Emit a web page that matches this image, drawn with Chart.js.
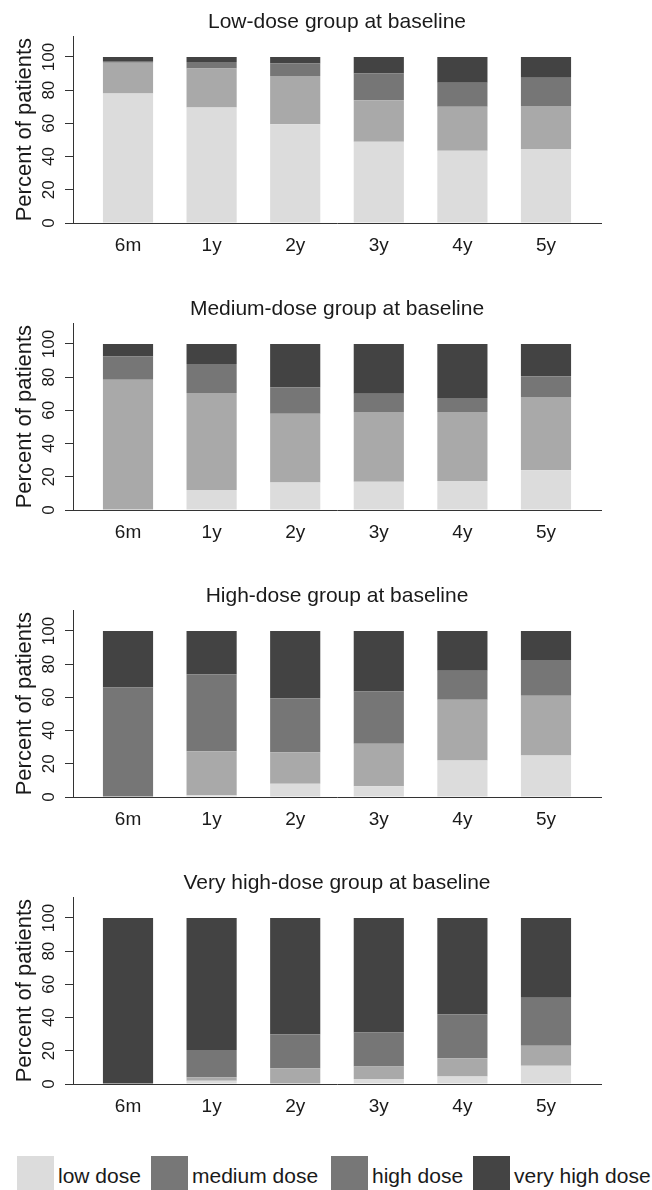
<!DOCTYPE html>
<html>
<head>
<meta charset="utf-8">
<script src="https://cdn.jsdelivr.net/npm/chart.js@4.4.1/dist/chart.umd.min.js"></script>
<style>
  body { margin: 0; background: #fff; font-family: "Liberation Sans", Arial, Helvetica, sans-serif; }
  .page { position: relative; width: 652px; height: 1190px; overflow: hidden; }
  .panel { position: absolute; left: 0; width: 652px; height: 287px; }
  .legend { position: absolute; top: 1156px; left: 0; width: 652px; height: 34px; color: #1a1a1a; font-size: 21px; }
  .legend .item { position: absolute; top: 0; display: flex; align-items: flex-start; }
  .legend .swatch { width: 37px; height: 34px; }
  .legend .text { line-height: 34px; margin-left: 4px; position: relative; top: 3px; white-space: nowrap; }
</style>
</head>
<body>
<div class="page">
  <div class="panel" style="top:0"><canvas id="lowChart" width="652" height="287"></canvas></div>
  <div class="panel" style="top:287px"><canvas id="mediumChart" width="652" height="287"></canvas></div>
  <div class="panel" style="top:574px"><canvas id="highChart" width="652" height="287"></canvas></div>
  <div class="panel" style="top:861px"><canvas id="veryHighChart" width="652" height="287"></canvas></div>
  <div class="legend" id="legend"></div>
</div>
<script>
// 横轴时间点与剂量分组
const timeLabels = ['6m', '1y', '2y', '3y', '4y', '5y'];
const doseLevels = ['low dose', 'medium dose', 'high dose', 'very high dose'];

// Low-dose group at baseline (percent of patients)
const lowGroupLow      = [78, 69.5, 59.5, 49, 43.5, 44.5];
const lowGroupMedium   = [18.5, 23.5, 29, 25, 26.5, 26];
const lowGroupHigh     = [1, 4, 7.5, 16, 14.5, 17];
const lowGroupVeryHigh = [2.5, 3, 4, 10, 15.5, 12.5];

// Medium-dose group at baseline
const mediumGroupLow      = [0, 12, 16.5, 17, 17.5, 24];
const mediumGroupMedium   = [78.5, 58.5, 41.5, 42, 41.5, 44];
const mediumGroupHigh     = [14, 17.5, 16, 11, 8.5, 12.5];
const mediumGroupVeryHigh = [7.5, 12, 26, 30, 32.5, 19.5];

// High-dose group at baseline
const highGroupLow      = [0, 1, 8, 6.5, 22, 25];
const highGroupMedium   = [0, 26.5, 19, 25.5, 36.5, 36];
const highGroupHigh     = [66, 46.5, 32.5, 31.5, 17.5, 21.5];
const highGroupVeryHigh = [34, 26, 40.5, 36.5, 24, 17.5];

// Very high-dose group at baseline
const veryHighGroupLow      = [0, 2, 0, 3, 4.5, 11];
const veryHighGroupMedium   = [0, 2, 9.5, 7.5, 11, 12];
const veryHighGroupHigh     = [0, 16.5, 20.5, 20.5, 26.5, 29];
const veryHighGroupVeryHigh = [100, 79.5, 70, 69, 58, 48];

const barColors = ['#dcdcdc', '#a9a9a9', '#767676', '#434343'];
// 图例里 medium dose 的色块和原图一样用深灰
const legendColors = ['#dcdcdc', '#777777', '#777777', '#444444'];

const fontFamily = '"Liberation Sans", Arial, Helvetica, sans-serif';
const textColor = '#1a1a1a';
const axisColor = '#333333';

Chart.defaults.font.family = fontFamily;

// 纵轴刻度文字旋转 90 度
const rotatedYTicks = {
    id: 'rotatedYTicks',
    afterDraw(chart) {
        const yScale = chart.scales.y;
        const area = chart.chartArea;
        const ctx = chart.ctx;
        ctx.save();
        ctx.font = '17px ' + fontFamily;
        ctx.fillStyle = textColor;
        ctx.textAlign = 'center';
        ctx.textBaseline = 'middle';
        yScale.ticks.forEach(t => {
            const py = yScale.getPixelForValue(t.value);
            ctx.save();
            ctx.translate(area.left - 24, py);
            ctx.rotate(-Math.PI / 2);
            ctx.fillText(String(t.value), 0, 0);
            ctx.restore();
        });
        // x 轴线向左多出一点
        const by = Math.round(yScale.getPixelForValue(0)) + 0.5;
        ctx.strokeStyle = axisColor;
        ctx.lineWidth = 1;
        ctx.beginPath();
        ctx.moveTo(area.left - 8, by);
        ctx.lineTo(area.left, by);
        ctx.stroke();
        ctx.restore();
    }
};

function buildPanel(canvasId, title, series) {
    const ctx = document.getElementById(canvasId).getContext('2d');
    new Chart(ctx, {
        type: 'bar',
        data: {
            datasets: doseLevels.map((name, k) => ({
                label: name,
                data: series[k].map((v, i) => ({ x: i, y: v })),
                backgroundColor: barColors[k],
                borderWidth: 0,
                categoryPercentage: 0.6,
                barPercentage: 1.0
            }))
        },
        options: {
            responsive: false,
            animation: false,
            layout: { padding: { left: 0, right: 51, top: 0, bottom: 0 } },
            plugins: {
                legend: { display: false },
                tooltip: { enabled: false },
                title: {
                    display: true,
                    text: title,
                    fullSize: false,
                    color: textColor,
                    font: { size: 21, weight: 'normal' },
                    padding: { top: 10, bottom: 1 }
                }
            },
            scales: {
                x: {
                    type: 'linear',
                    min: -0.658,
                    max: 5.658,
                    offset: false,
                    stacked: true,
                    grid: { display: false, drawTicks: false },
                    border: { display: true, color: axisColor, width: 1 },
                    ticks: {
                        stepSize: 1,
                        includeBounds: false,
                        autoSkip: false,
                        maxRotation: 0,
                        padding: 11,
                        color: textColor,
                        font: { size: 19 },
                        callback: v => timeLabels[v] ?? ''
                    },
                    afterFit: s => { s.height = 64; }
                },
                y: {
                    type: 'linear',
                    min: 0,
                    max: 112.5,
                    stacked: true,
                    grid: { display: true, drawOnChartArea: false, drawTicks: true, tickLength: 8, color: axisColor },
                    border: { display: true, color: axisColor, width: 1 },
                    ticks: {
                        display: false,
                        stepSize: 20,
                        includeBounds: false
                    },
                    title: {
                        display: true,
                        text: 'Percent of patients',
                        color: textColor,
                        font: { size: 22, lineHeight: 1 },
                        padding: { top: 14, bottom: 0 }
                    },
                    afterFit: s => { s.width = 73; }
                }
            }
        },
        plugins: [rotatedYTicks]
    });
}

buildPanel('lowChart', 'Low-dose group at baseline',
    [lowGroupLow, lowGroupMedium, lowGroupHigh, lowGroupVeryHigh]);
buildPanel('mediumChart', 'Medium-dose group at baseline',
    [mediumGroupLow, mediumGroupMedium, mediumGroupHigh, mediumGroupVeryHigh]);
buildPanel('highChart', 'High-dose group at baseline',
    [highGroupLow, highGroupMedium, highGroupHigh, highGroupVeryHigh]);
buildPanel('veryHighChart', 'Very high-dose group at baseline',
    [veryHighGroupLow, veryHighGroupMedium, veryHighGroupHigh, veryHighGroupVeryHigh]);

// 图例
const legendLeft = [17, 151, 331, 473];
const legendEl = document.getElementById('legend');
doseLevels.forEach((name, k) => {
    const item = document.createElement('div');
    item.className = 'item';
    item.style.left = legendLeft[k] + 'px';
    item.innerHTML = '<div class="swatch" style="background:' + legendColors[k] + '"></div>' +
        '<span class="text">' + name + '</span>';
    legendEl.appendChild(item);
});
</script>
</body>
</html>
